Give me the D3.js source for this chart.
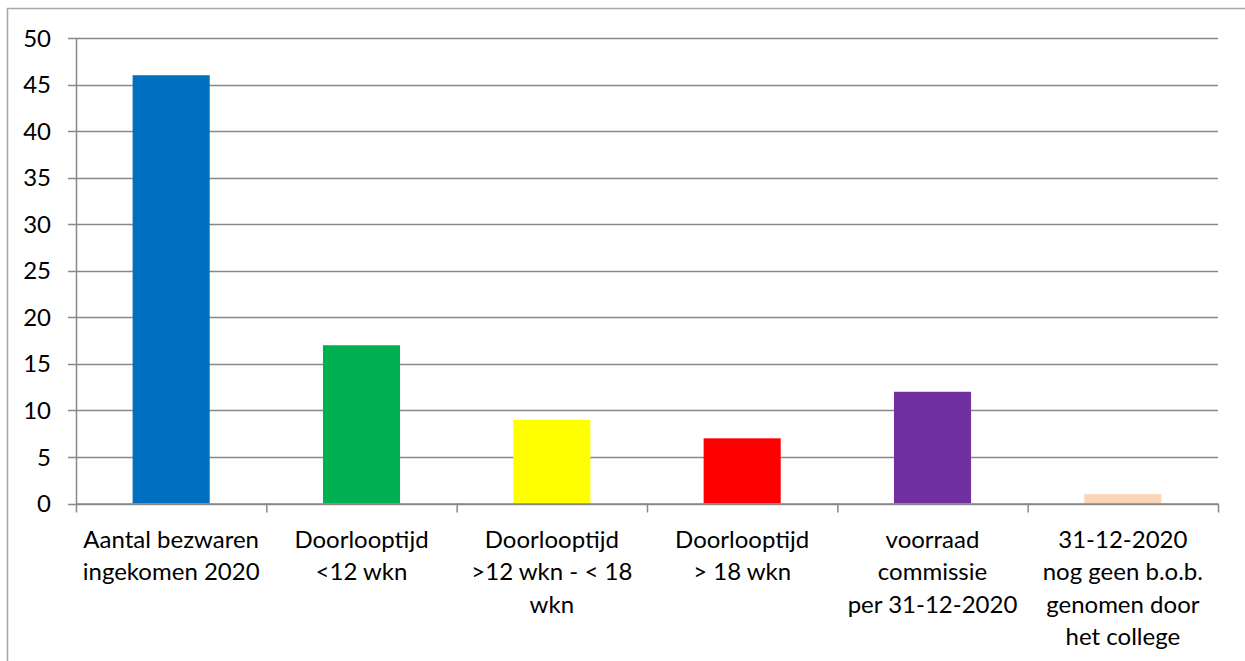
<!DOCTYPE html>
<html><head><meta charset="utf-8">
<script src="https://cdn.jsdelivr.net/npm/d3@7"></script>
<style>body{margin:0;background:#fff}svg{display:block}</style>
</head><body>
<script>
const categories = [
  ["Aantal bezwaren","ingekomen 2020"],
  ["Doorlooptijd","<12 wkn"],
  ["Doorlooptijd",">12 wkn - < 18","wkn"],
  ["Doorlooptijd","> 18 wkn"],
  ["voorraad","commissie","per 31-12-2020"],
  ["31-12-2020","nog geen b.o.b.","genomen door","het college"]
];
const values = [46, 17, 9, 7, 12, 1];
const colors = ["#0070C0","#00B050","#FFFF00","#FF0000","#7030A0","#FBD5B5"];
const yTicks = [0,5,10,15,20,25,30,35,40,45,50];

(function(){
const W=1245,H=661;
const svg=d3.select("body").append("svg").attr("width",W).attr("height",H);
const font="Lato, 'Open Sans', sans-serif";
svg.append("rect").attr("x",7.5).attr("y",8.5).attr("width",1400).attr("height",800)
  .attr("fill","none").attr("stroke","#a6a6a6").attr("stroke-width",1.5);

const pl=76,pr=1218,pt=38,pb=503.5;
const x=d3.scaleBand().domain(d3.range(categories.length)).range([pl,pr]).padding(0);
const y=d3.scaleLinear().domain([0,50]).range([pb,pt]);
const gc="#898989";

svg.append("g").selectAll("line").data(yTicks).join("line")
  .attr("x1",pl-8).attr("x2",pr).attr("y1",d=>Math.round(y(d))+0.5).attr("y2",d=>Math.round(y(d))+0.5)
  .attr("stroke",gc).attr("stroke-width",1.5);
svg.append("line").attr("x1",pl+0.5).attr("x2",pl+0.5).attr("y1",pt).attr("y2",pb+0.5)
  .attr("stroke",gc).attr("stroke-width",1.5);
svg.append("g").selectAll("text").data(yTicks).join("text")
  .attr("x",51).attr("y",d=>y(d)).attr("dy","0.36em").attr("text-anchor","end")
  .attr("font-family",font).attr("font-size",24).attr("fill","#000").text(d=>d);

const bw=x.bandwidth()*0.405;
svg.append("g").selectAll("rect").data(values).join("rect")
  .attr("x",(d,i)=>x(i)+x.bandwidth()/2-bw/2).attr("width",bw)
  .attr("y",d=>y(d)).attr("height",d=>pb-y(d)).attr("fill",(d,i)=>colors[i]);

svg.append("line").attr("x1",pl).attr("x2",pr).attr("y1",pb+0.5).attr("y2",pb+0.5)
  .attr("stroke",gc).attr("stroke-width",1.5);
const edges=d3.range(categories.length+1).map(i=>i<categories.length?x(i):pr);
svg.append("g").selectAll("line").data(edges).join("line")
  .attr("x1",d=>d+0.5).attr("x2",d=>d+0.5).attr("y1",pb).attr("y2",pb+9)
  .attr("stroke",gc).attr("stroke-width",1.5);
const xl=svg.append("g").selectAll("text").data(categories).join("text")
  .attr("text-anchor","middle").attr("font-family",font).attr("font-size",24).attr("fill","#000");
xl.each(function(lines,i){
  d3.select(this).selectAll("tspan").data(lines).join("tspan")
    .attr("x",x(i)+x.bandwidth()/2).attr("y",(d,j)=>539+j*32.5).attr("dy","0.36em").text(d=>d);
});
})();
</script>
</body></html>
